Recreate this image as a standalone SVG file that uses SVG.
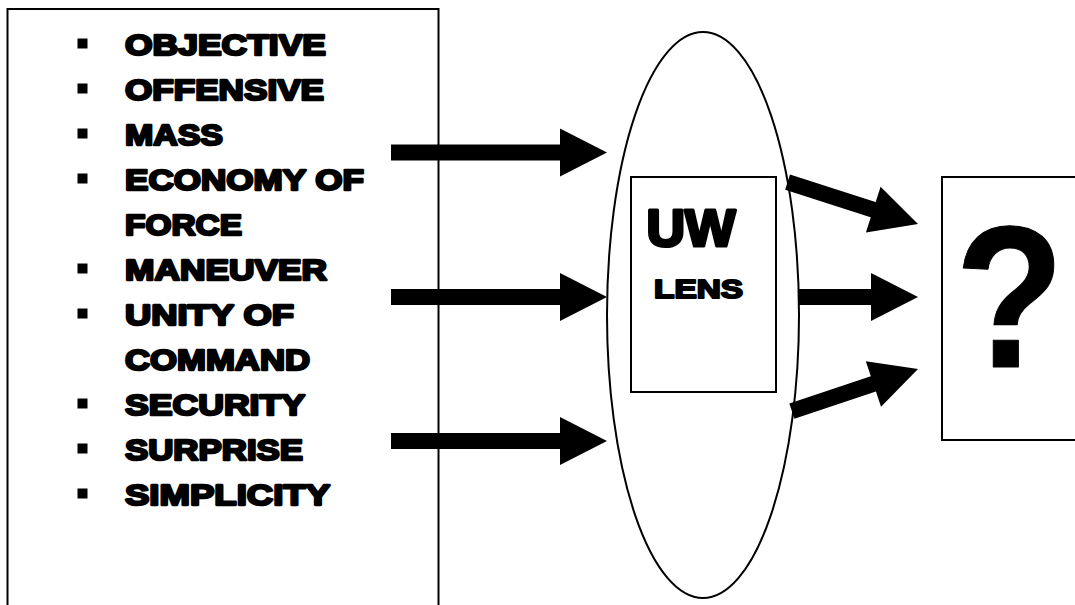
<svg xmlns="http://www.w3.org/2000/svg" width="1075" height="605" viewBox="0 0 1075 605">
<defs>
<style>
.box{fill:none;stroke:#000;stroke-width:2}
.item{font-family:"Liberation Sans",Arial,sans-serif;font-weight:bold;font-size:30px;fill:#000;stroke:#000;stroke-width:2.4;stroke-linejoin:round}
.bul{fill:#000}
.arrow{fill:#000}
.big{font-family:"Liberation Sans",Arial,sans-serif;font-weight:bold;fill:#000;stroke:#000;stroke-linejoin:round}
</style>
<path id="head" d="M0,0 L-47,-24 L-47,24 Z"/>
</defs>
<rect width="1075" height="605" fill="#fff"/>
<g id="principles">
<rect class="box" x="7.5" y="9" width="431" height="620"/>
<rect class="bul" x="77.5" y="38.5" width="10" height="10"/>
<rect class="bul" x="77.5" y="83.5" width="10" height="10"/>
<rect class="bul" x="77.5" y="128.5" width="10" height="10"/>
<rect class="bul" x="77.5" y="173.5" width="10" height="10"/>
<rect class="bul" x="77.5" y="263.5" width="10" height="10"/>
<rect class="bul" x="77.5" y="308.5" width="10" height="10"/>
<rect class="bul" x="77.5" y="398.5" width="10" height="10"/>
<rect class="bul" x="77.5" y="443.5" width="10" height="10"/>
<rect class="bul" x="77.5" y="488.5" width="10" height="10"/>
<text class="item" x="125" y="54.5" textLength="201" lengthAdjust="spacingAndGlyphs">OBJECTIVE</text>
<text class="item" x="125" y="99.5" textLength="199" lengthAdjust="spacingAndGlyphs">OFFENSIVE</text>
<text class="item" x="125" y="144.5" textLength="98" lengthAdjust="spacingAndGlyphs">MASS</text>
<text class="item" x="125" y="189.5" textLength="239" lengthAdjust="spacingAndGlyphs">ECONOMY OF</text>
<text class="item" x="125" y="234.5" textLength="117" lengthAdjust="spacingAndGlyphs">FORCE</text>
<text class="item" x="125" y="279.5" textLength="202" lengthAdjust="spacingAndGlyphs">MANEUVER</text>
<text class="item" x="125" y="324.5" textLength="169" lengthAdjust="spacingAndGlyphs">UNITY OF</text>
<text class="item" x="125" y="369.5" textLength="185" lengthAdjust="spacingAndGlyphs">COMMAND</text>
<text class="item" x="125" y="414.5" textLength="180" lengthAdjust="spacingAndGlyphs">SECURITY</text>
<text class="item" x="125" y="459.5" textLength="178" lengthAdjust="spacingAndGlyphs">SURPRISE</text>
<text class="item" x="125" y="504.5" textLength="205" lengthAdjust="spacingAndGlyphs">SIMPLICITY</text>
</g>
<g id="lens">
<ellipse class="box" cx="703" cy="315" rx="96" ry="283"/>
<rect class="box" x="631" y="177" width="145" height="215"/>
<text class="big" x="646.5" y="246" font-size="51" stroke-width="3.2" textLength="89" lengthAdjust="spacingAndGlyphs">UW</text>
<text class="big" x="654" y="297.5" font-size="26" stroke-width="2" textLength="89" lengthAdjust="spacingAndGlyphs">LENS</text>
</g>
<g id="result">
<rect class="box" x="942" y="177" width="150" height="263"/>
<text class="big" transform="translate(1009.5,367) scale(0.88,1)" x="0" y="0" font-size="203" stroke-width="1" text-anchor="middle">?</text>
</g>
<g id="connectors">
<g transform="translate(607,152.5)"><use href="#head" class="arrow"/><rect class="arrow" x="-216" y="-8" width="172" height="16"/></g>
<g transform="translate(607,297)"><use href="#head" class="arrow"/><rect class="arrow" x="-216" y="-8" width="172" height="16"/></g>
<g transform="translate(607,441)"><use href="#head" class="arrow"/><rect class="arrow" x="-216" y="-8" width="172" height="16"/></g>
<g transform="translate(918,224) rotate(17.8)"><use href="#head" class="arrow"/><rect class="arrow" x="-137" y="-8" width="93" height="16"/></g>
<g transform="translate(918,297)"><use href="#head" class="arrow"/><rect class="arrow" x="-120" y="-8" width="76" height="16"/></g>
<g transform="translate(918,369) rotate(-18.5)"><use href="#head" class="arrow"/><rect class="arrow" x="-133" y="-8" width="89" height="16"/></g>
</g>
</svg>
